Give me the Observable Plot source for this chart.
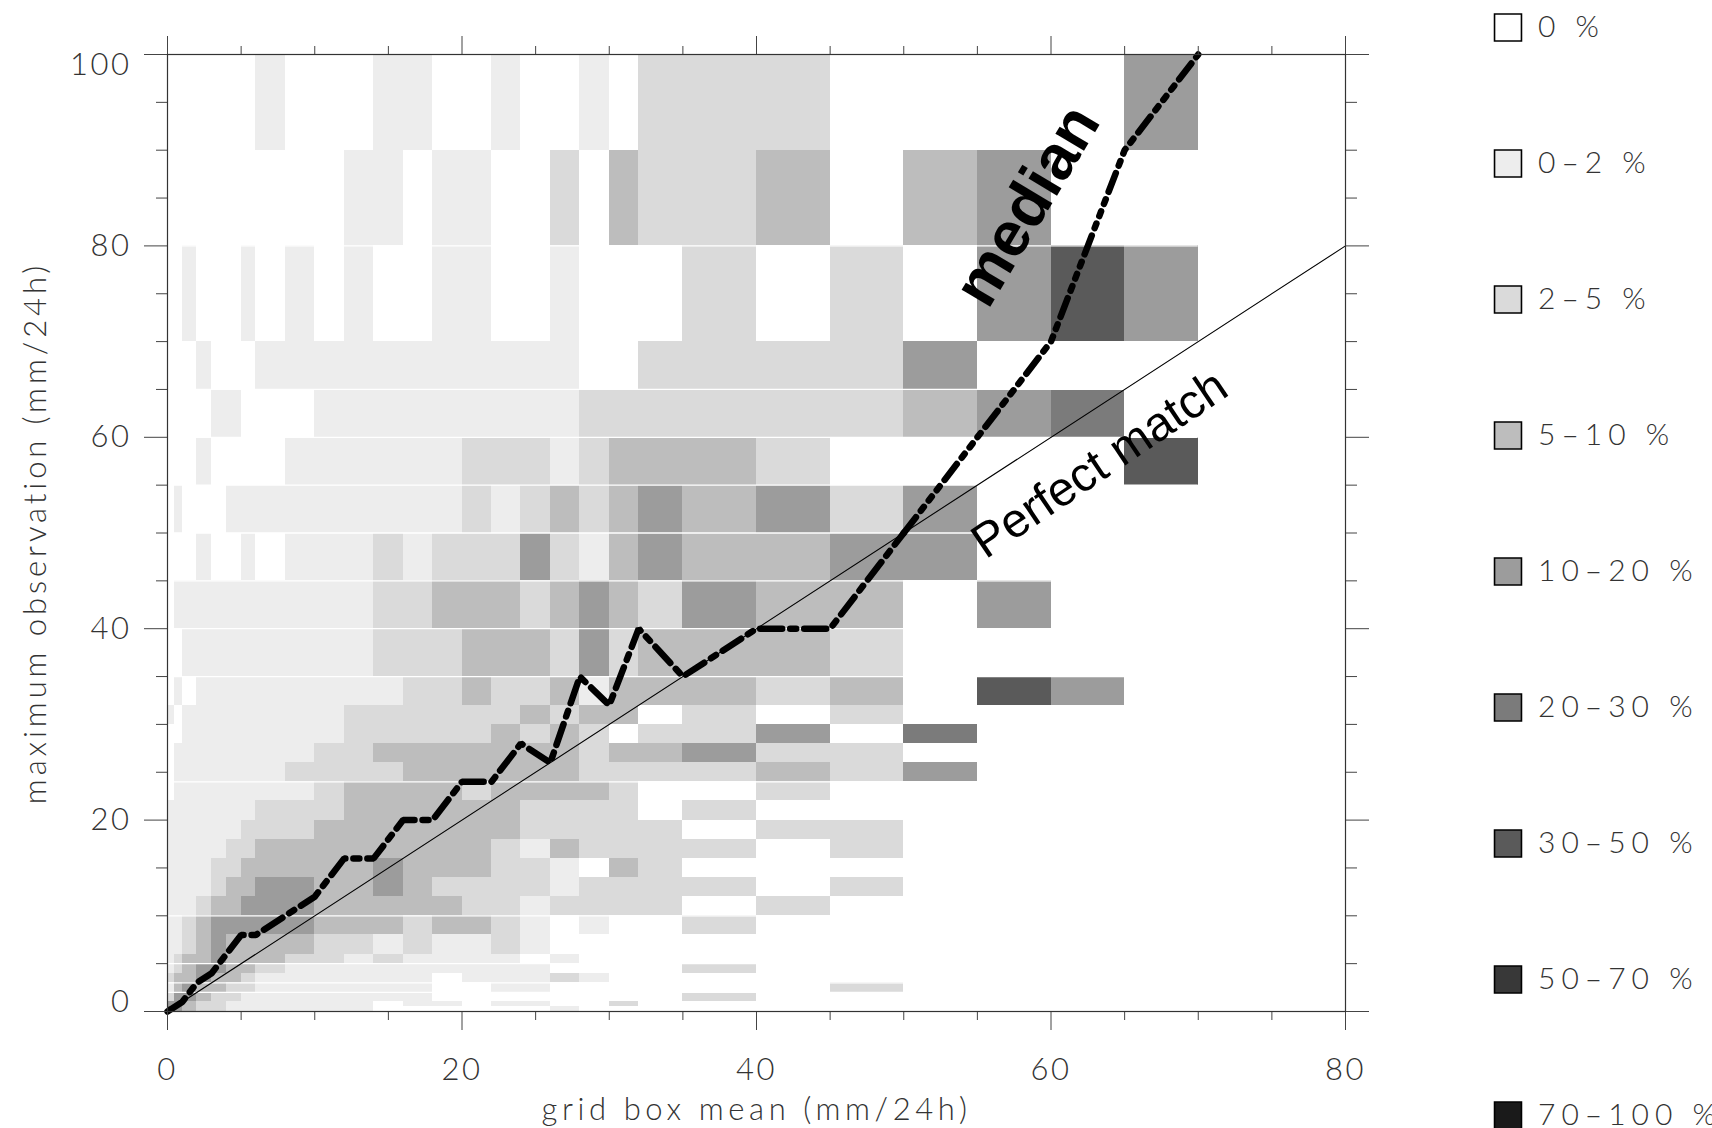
<!DOCTYPE html>
<html>
<head>
<meta charset="utf-8">
<script src="https://cdn.jsdelivr.net/npm/d3@7"></script>
<script src="https://cdn.jsdelivr.net/npm/@observablehq/plot@0.6"></script>
<style>
  html, body { margin: 0; padding: 0; background: #fff; overflow: hidden; }
  #wrap { position: relative; width: 1712px; height: 1128px; overflow: hidden; }
  #main { position: absolute; left: 0; top: 0; }
  #legend { position: absolute; left: 1470px; top: 0; }
</style>
</head>
<body>
<div id="wrap"><div id="main"></div><div id="legend"></div></div>
<script>
// ---- bin edges (mm/24h) ----
const xEdges = [0,0.5,1,2,3,4,5,6,8,10,12,14,16,18,20,22,24,26,28,30,32,35,40,45,50,55,60,65,70];
const yEdges = [0,0.5,1,2,3,4,5,6,8,10,12,14,16,18,20,22,24,26,28,30,32,35,40,45,50,55,60,65,70,80,90,100];

// ---- frequency classes ----
const classLabels = ["0 %","0–2 %","2–5 %","5–10 %","10–20 %","20–30 %","30–50 %","50–70 %","70–100 %"];
const classGrays  = ["#ffffff","#ededed","#dadada","#bdbdbd","#9c9c9c","#7b7b7b","#5a5a5a","#383838","#1a1a1a"];

// class index per cell: one string per y bin (bottom first), one digit per x bin
const freqClass = [
  "5432211111100000010000000000", // 0-0.5
  "4432211111101101100200000000", // 0.5-1
  "2443221111111000000002000000", // 1-2
  "1343322111111001100000020000", // 2-3
  "2334332111111011121000000000", // 3-4
  "1234433211111111100002000000", // 4-5
  "1233433322121111010000000000", // 5-6
  "1123433332212112100000000000", // 6-8
  "1123444443332332101002000000", // 8-10
  "1112334443333322122220200000", // 10-12
  "1111233443343222212222020000", // 12-14
  "1111223333343332210320000000", // 14-16
  "1111122333333332132222020000", // 16-18
  "1111112223333333222220220000", // 18-20
  "1111111222333333222202000000", // 20-22
  "0111111112333323333200200000", // 22-24
  "0111111122223333332222324000", // 24-26
  "0111111112233333332334220000", // 26-28
  "0011111111222223232022405000", // 28-30
  "1011111111222222323302020000", // 30-32
  "0101111111112232231333230640", // 32-35
  "0011111111122233324233320000", // 35-40
  "0111111111122333234324330400", // 40-45
  "0001001011121222421343344000", // 45-50
  "0100011111111121232343424000", // 50-55
  "0001000011111122212333200006", // 55-60
  "0000110001111111112222223450", // 60-65
  "0001000111111111110022224000", // 65-70
  "0010001010100110010002020464", // 70-80
  "0000000000110110020322303400", // 80-90
  "0000000100011001001022200004"  // 90-100
];

// ---- median of maximum observation per grid-box-mean bin ----
const medianX = [0,1,2,3,4,5,6,8,10,12,14,16,18,20,22,24,26,28,30,32,35,40,45,50,55,60,65,70];
const medianY = [0,1,3,4,6,8,8,10,12,16,16,20,20,24,24,28,26,35,32,40,35,40,40,50,60,70,90,100];

// ---- perfect match diagonal ----
const perfectX = [0, 80];
const perfectY = [0, 80];

// ---- thin white seams visible between some rows ----
const seamY = [2,3,5,10,24,35,40,45,50,55,60,65,80];

// ---- axes ----
const xMajorTicks = [0,20,40,60,80];
const xMinorTicks = [5,10,15,25,30,35,45,50,55,65,70,75];
const yMajorTicks = [0,20,40,60,80,100];
const yMinorTicks = [5,10,15,25,30,35,45,50,55,65,70,75,85,90,95];
const yMidLabels = [20,40,60,80];
const xTitle = "grid box mean (mm/24h)";
const yTitle = "maximum observation (mm/24h)";

// ---- annotations (data coordinates) ----
const annMedian = [{text: "median", x: 58.4, y: 84.2, angle: -59}];
const annPerfect = [{text: "Perfect match", x: 63.3, y: 57.2, angle: -34}];

// ---------- build cells ----------
const cells = [];
freqClass.forEach((row, j) => {
  for (let i = 0; i < xEdges.length - 1; i++) {
    const k = +row[i];
    if (k > 0) cells.push({x1: xEdges[i], x2: xEdges[i + 1], y1: yEdges[j], y2: yEdges[j + 1], cls: classLabels[k]});
  }
});
const median = medianX.map((x, i) => ({x, y: medianY[i]}));
const medLow = median.filter(d => d.x <= 50);
const medHigh = median.filter(d => d.x >= 50);
const perfect = perfectX.map((x, i) => ({x, y: perfectY[i]}));

const lightFont = "Lato, 'DejaVu Sans', sans-serif";
const tickFont = {fontFamily: lightFont, fontWeight: 300, fontSize: 31, fill: "#333"};
const axisStroke = "#444";
const blank = () => "";

const main = Plot.plot({
  width: 1420,
  height: 1128,
  marginLeft: 167,
  marginRight: 75,
  marginTop: 54,
  marginBottom: 117,
  x: {domain: [0, 80], label: null},
  y: {domain: [0, 100], label: null},
  color: {type: "ordinal", domain: classLabels, range: classGrays},
  style: {background: "white", overflow: "visible"},
  marks: [
    Plot.rect(cells, {x1: "x1", x2: "x2", y1: "y1", y2: "y2", fill: "cls", shapeRendering: "crispEdges"}),
    Plot.ruleY(seamY, {x1: 0, x2: 70, stroke: "white", strokeWidth: 1.3}),
    Plot.line(perfect, {x: "x", y: "y", stroke: "black", strokeWidth: 1.1}),
    Plot.line(medLow, {x: "x", y: "y", stroke: "black", strokeWidth: 6.5, strokeDasharray: "22,8,6,8", strokeLinejoin: "miter"}),
    Plot.line(medHigh, {x: "x", y: "y", stroke: "black", strokeWidth: 6.5, strokeDasharray: "20,8,5,8,5,8,5,8", strokeLinejoin: "miter"}),
    Plot.text(annMedian, {x: "x", y: "y", text: "text", rotate: "angle", fontFamily: "'Liberation Sans', Arial, sans-serif", fontWeight: "bold", fontSize: 63, fill: "black"}),
    Plot.text(annPerfect, {x: "x", y: "y", text: "text", rotate: "angle", fontFamily: "'Liberation Sans', Arial, sans-serif", fontSize: 48, fill: "black"}),
    // tick marks on all four sides (outward)
    Plot.axisX(xMajorTicks, {anchor: "bottom", tickSize: 19, tickFormat: blank, stroke: axisStroke}),
    Plot.axisX(xMinorTicks, {anchor: "bottom", tickSize: 9, tickFormat: blank, stroke: axisStroke}),
    Plot.axisX(xMajorTicks, {anchor: "top", tickSize: 19, tickFormat: blank, stroke: axisStroke}),
    Plot.axisX(xMinorTicks, {anchor: "top", tickSize: 9, tickFormat: blank, stroke: axisStroke}),
    Plot.axisY(yMajorTicks, {anchor: "left", tickSize: 23, tickFormat: blank, stroke: axisStroke}),
    Plot.axisY(yMinorTicks, {anchor: "left", tickSize: 11, tickFormat: blank, stroke: axisStroke}),
    Plot.axisY(yMajorTicks, {anchor: "right", tickSize: 23, tickFormat: blank, stroke: axisStroke}),
    Plot.axisY(yMinorTicks, {anchor: "right", tickSize: 11, tickFormat: blank, stroke: axisStroke}),
    // tick labels
    Plot.axisX(xMajorTicks, {anchor: "bottom", tickSize: 0, tickPadding: 46, ...tickFont}),
    Plot.axisY(yMidLabels, {anchor: "left", tickSize: 0, tickPadding: 36, ...tickFont}),
    Plot.axisY([0], {anchor: "left", tickSize: 0, tickPadding: 36, dy: -9, ...tickFont}),
    Plot.axisY([100], {anchor: "left", tickSize: 0, tickPadding: 36, dy: 11, ...tickFont}),
    // axis titles
    Plot.text([xTitle], {frameAnchor: "bottom", dy: 108, lineAnchor: "bottom", textAnchor: "middle", text: d => d, fontFamily: lightFont, fontWeight: 300, fontSize: 31, fill: "#333"}),
    Plot.text([yTitle], {frameAnchor: "left", dx: -144, lineAnchor: "top", textAnchor: "middle", rotate: -90, text: d => d, fontFamily: lightFont, fontWeight: 300, fontSize: 31, fill: "#333"}),
    Plot.frame({stroke: "#333", strokeWidth: 1.2})
  ]
});
document.getElementById("main").appendChild(main);

// wide character spacing of the original stroke font
const spacingFor = t => {
  if (t === xTitle) return 4.6;
  if (t === yTitle) return 3.9;
  if (/^\d+$/.test(t)) return 2.5;
  return 0;
};
d3.select(main).selectAll("text").each(function () {
  const s = spacingFor(this.textContent);
  if (s) this.setAttribute("letter-spacing", s);
});

// ---------- legend ----------
const legend = Plot.plot({
  width: 242,
  height: 1240,
  margin: 0,
  x: {domain: [0, 1], range: [37.5, 237.5], axis: null},
  y: {type: "point", domain: classLabels, range: [27, 27 + 8 * 136.1], padding: 0, axis: null},
  color: {type: "ordinal", domain: classLabels, range: classGrays},
  marks: [
    Plot.dot(classLabels, {x: () => 0, y: d => d, fill: d => d, symbol: "square", r: 15.2, stroke: "black", strokeWidth: 1.6}),
    Plot.text(classLabels, {x: () => 0, y: d => d, text: d => d, dx: 30, textAnchor: "start", fontFamily: lightFont, fontWeight: 300, fontSize: 30, fill: "#333"})
  ]
});
d3.select(legend).selectAll("text").attr("letter-spacing", 6);
document.getElementById("legend").appendChild(legend);
</script>
</body>
</html>
